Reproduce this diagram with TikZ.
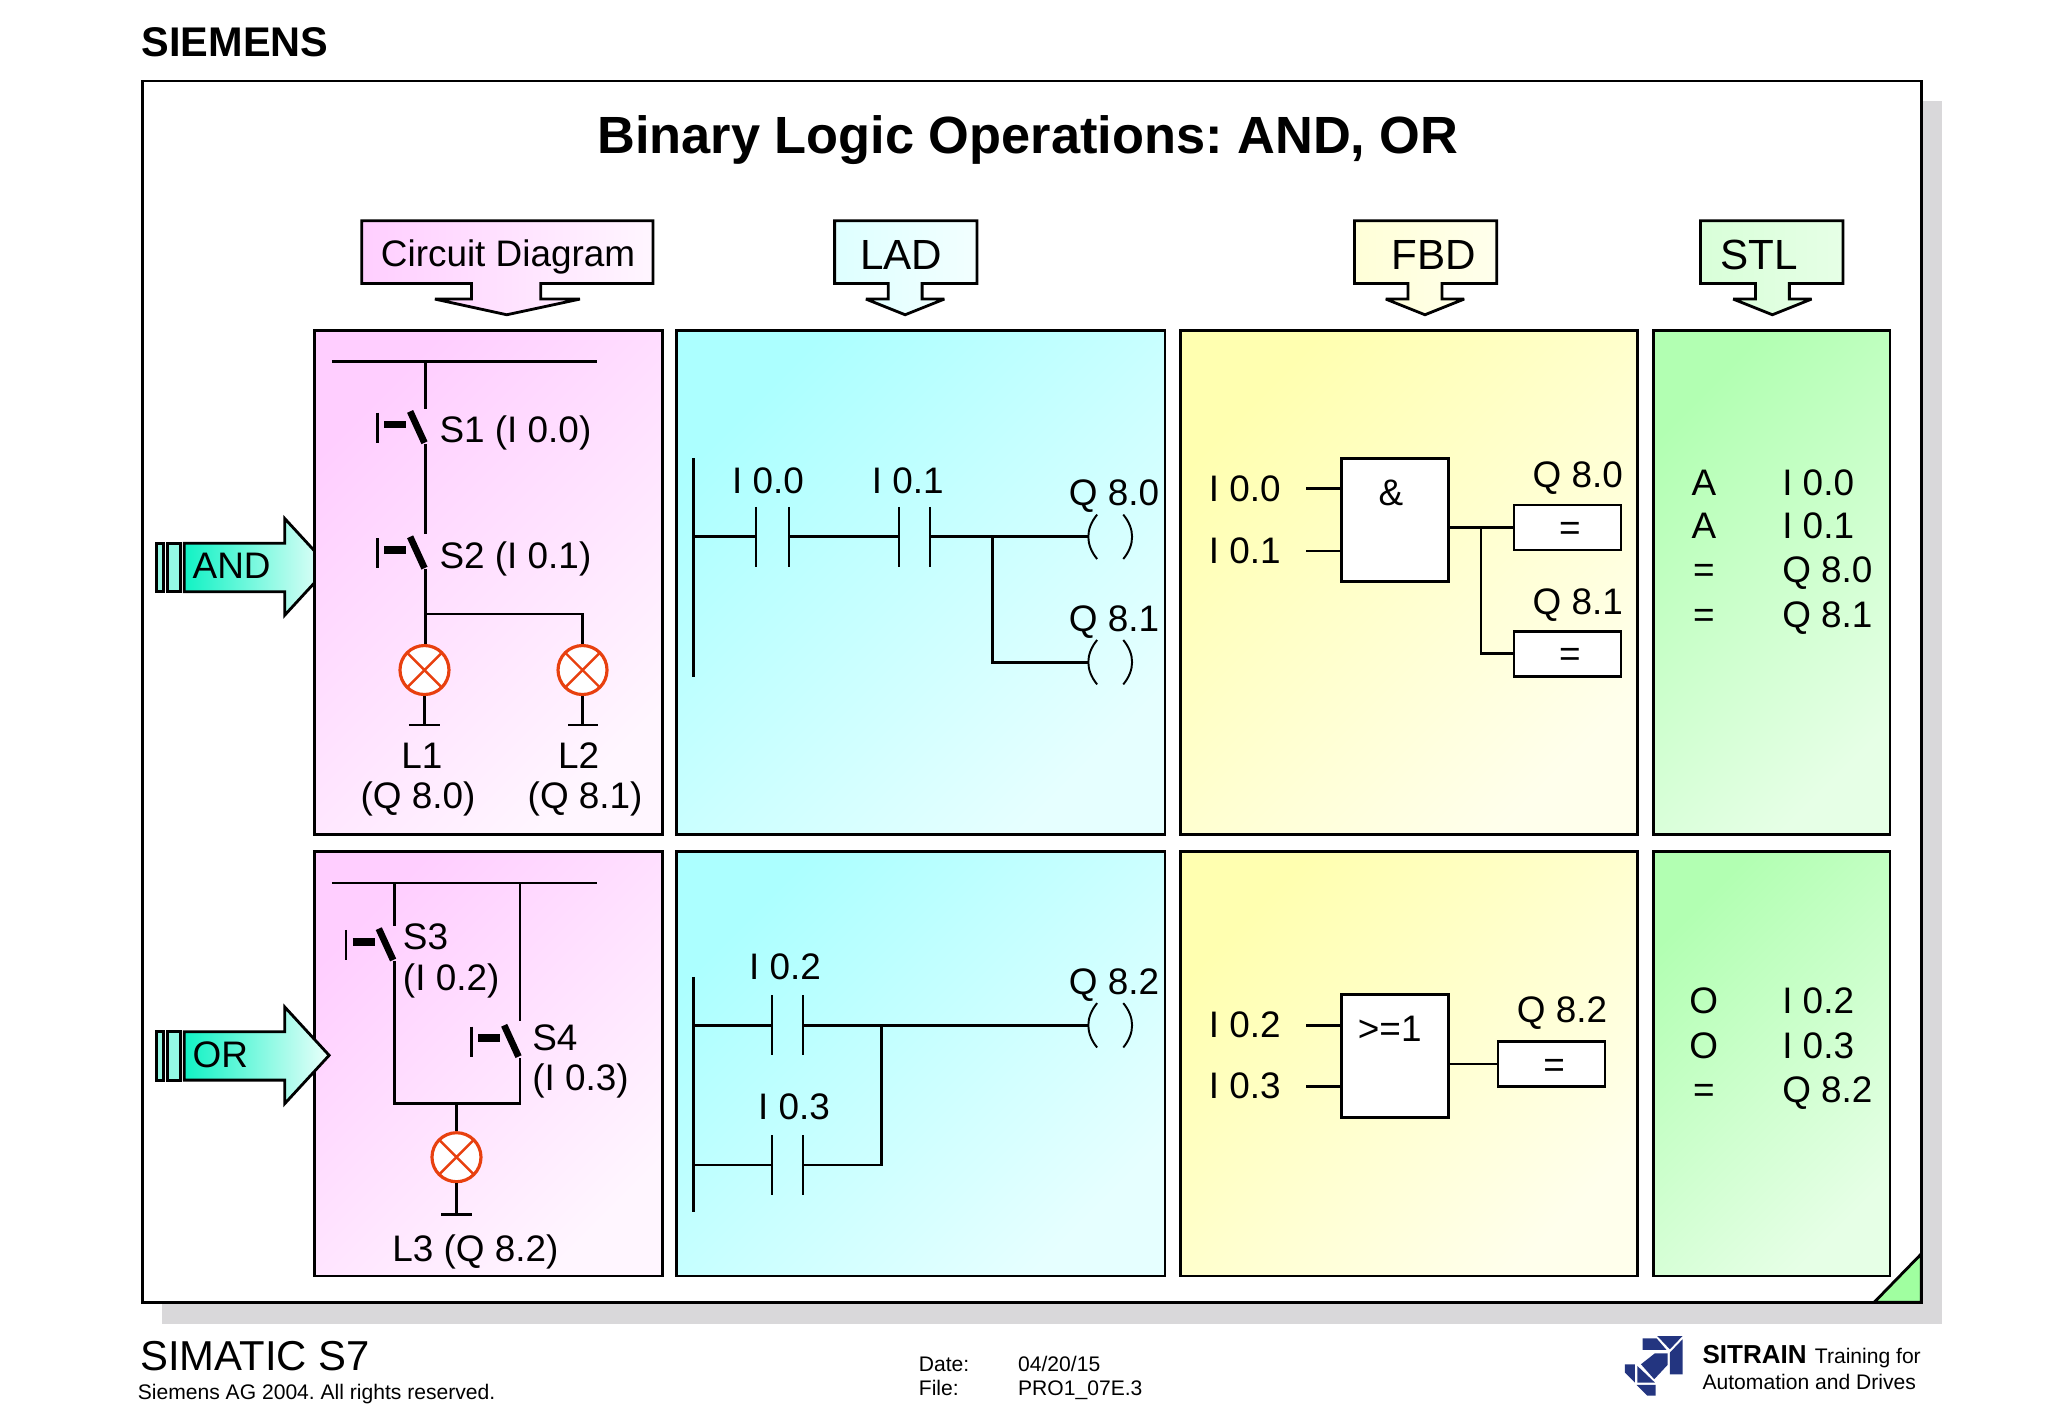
\documentclass[tikz,border=0pt]{standalone}
\usepackage{fontspec}
\setmainfont{Liberation Sans}
\definecolor{shadowgrey}{HTML}{D9D8DA}
\definecolor{lampred}{HTML}{E8400F}
\definecolor{logoblue}{HTML}{233580}
\definecolor{pinkdeep}{HTML}{FFCEFF}
\definecolor{pinkpale}{HTML}{FFF6FF}
\definecolor{cyandeep}{HTML}{ACFFFF}
\definecolor{cyanpale}{HTML}{E6FFFF}
\definecolor{yellowdeep}{HTML}{FFFFB0}
\definecolor{yellowpale}{HTML}{FFFFEC}
\definecolor{greendeep}{HTML}{B2FFB2}
\definecolor{greenpale}{HTML}{E6FFE6}
\definecolor{arrowdeep}{HTML}{10F2C4}
\definecolor{arrowpale}{HTML}{EAFFFB}
\begin{document}
\frenchspacing
\begin{tikzpicture}[x=0.0130612cm,y=-0.0130612cm]
  \tikzstyle{wire}=[line width=0.75pt]
  \tikzstyle{thin wire}=[line width=0.55pt]
  \tikzstyle{outline}=[draw=black, line width=0.8pt]
  \tikzstyle{callout}=[outline, miter limit=2, shading=axis]
  \tikzstyle{panel}=[outline, shading=axis, shading angle=45]
  \tikzstyle{lbl}=[inner sep=0pt, yshift=0.35pt, font=\fontsize{10.5}{12}\selectfont, text height=7.5pt, text depth=0pt]
  \tikzstyle{headlbl}=[lbl, font=\fontsize{12}{14}\selectfont, text height=8.6pt]
  \tikzstyle{small}=[inner sep=0pt, font=\fontsize{6}{7}\selectfont, anchor=west, text height=4.3pt, text depth=0pt]
  \tikzstyle{lamp}=[circle, draw=lampred, fill=white, line width=0.9pt, minimum size=0.49cm, inner sep=0pt,
    path picture={\draw[lampred, line width=0.7pt]
      (path picture bounding box.north west) -- (path picture bounding box.south east)
      (path picture bounding box.north east) -- (path picture bounding box.south west);}]
  \tikzstyle{fbdbox}=[draw=black, fill=white, line width=0.75pt, inner sep=0pt, minimum width=1.07cm, minimum height=1.23cm]
  \tikzstyle{assign}=[lbl, yshift=-0.35pt, draw=black, fill=white, line width=0.75pt, minimum width=1.07cm, minimum height=0.45cm]
  \useasboundingbox (0,0) rectangle (1568,1085.66);

  % Sheet
  \node[inner sep=0pt, anchor=west, font=\fontsize{11.8}{14}\selectfont\bfseries] (brand) at (108,32) {SIEMENS};
  \fill[shadowgrey] (124,77) rectangle (1487,1014);
  \draw[outline, fill=white] (109,62) rectangle (1471,997);
  \draw[outline, top color=greendeep!90!green, bottom color=greendeep!90!green] (1471,960) -- (1471,997) -- (1435,997) -- cycle;
  \node[inner sep=0pt, font=\fontsize{14.9}{18}\selectfont\bfseries] (title) at (787,107) {Binary Logic Operations: AND, OR};

  % Header arrows
  \draw[callout, left color=pinkdeep, right color=pinkpale]
    (277,169) -- (500,169) -- (500,217) -- (414,217) -- (414,229) -- (444,229) -- (388,241)
    -- (333,229) -- (361,229) -- (361,217) -- (277,217) -- cycle;
  \draw[callout, left color=cyandeep!40, right color=cyanpale!50]
    (639,169) -- (748,169) -- (748,217) -- (706,217) -- (706,229) -- (723,229) -- (693,241)
    -- (663,229) -- (680,229) -- (680,217) -- (639,217) -- cycle;
  \draw[callout, left color=yellowdeep!50, right color=yellowpale]
    (1037,169) -- (1146,169) -- (1146,217) -- (1104,217) -- (1104,229) -- (1121,229) -- (1091,241)
    -- (1061,229) -- (1078,229) -- (1078,217) -- (1037,217) -- cycle;
  \draw[callout, left color=greendeep!50, right color=greenpale]
    (1302,169) -- (1411,169) -- (1411,217) -- (1370,217) -- (1370,229) -- (1387,229) -- (1357,241)
    -- (1327,229) -- (1344,229) -- (1344,217) -- (1302,217) -- cycle;
  \node[lbl] (h1) at (389,195) {Circuit Diagram};
  \node[headlbl] (h2) at (690,196) {LAD};
  \node[headlbl] (h3) at (1098,196) {FBD};
  \node[headlbl] (h4) at (1347,196) {STL};

  % AND arrow goes behind the panel
  \draw[outline, fill=arrowdeep!45] (120,416) rectangle (125,453);
  \draw[outline, fill=arrowdeep!45] (128,416) rectangle (138,453);
  \draw[outline, left color=arrowdeep, right color=arrowpale]
    (141,416) -- (218,416) -- (218,397) -- (252,434) -- (218,471) -- (218,453) -- (141,453) -- cycle;

  % Panels
  \path[panel, top color=pinkdeep, bottom color=pinkpale, shading angle=45] (241,253) rectangle (507,639);
  \path[panel, top color=cyandeep, bottom color=cyanpale, shading angle=45] (518,253) rectangle (892,639);
  \path[panel, top color=yellowdeep, bottom color=yellowpale, shading angle=45] (904,253) rectangle (1254,639);
  \path[panel, top color=greendeep, bottom color=greenpale, shading angle=45] (1266,253) rectangle (1447,639);
  \path[panel, top color=pinkdeep, bottom color=pinkpale, shading angle=45] (241,652) rectangle (507,977);
  \path[panel, top color=cyandeep, bottom color=cyanpale, shading angle=45] (518,652) rectangle (892,977);
  \path[panel, top color=yellowdeep, bottom color=yellowpale, shading angle=45] (904,652) rectangle (1254,977);
  \path[panel, top color=greendeep, bottom color=greenpale, shading angle=45] (1266,652) rectangle (1447,977);

  % OR arrow lies over the panel
  \draw[outline, fill=arrowdeep!45] (120,790) rectangle (125,827);
  \draw[outline, fill=arrowdeep!45] (128,790) rectangle (138,827);
  \draw[outline, left color=arrowdeep, right color=arrowpale]
    (141,790) -- (218,790) -- (218,771) -- (252,808) -- (218,845) -- (218,827) -- (141,827) -- cycle;
  \node[lbl, anchor=west] (andlbl) at (147,434) {AND};
  \node[lbl, anchor=west] (orlbl) at (147,808) {OR};

  % Circuit AND
  \coordinate (ra1) at (254,277);
  \coordinate (ra2) at (457,277);
  \coordinate (ra3) at (326,277);
  \coordinate (s1t) at (326,313);
  \coordinate (s1b) at (326,340);
  \coordinate (s2t) at (326,409);
  \coordinate (s2b) at (326,436);
  \coordinate (ja) at (326,470);
  \coordinate (jb) at (446,470);
  \node[lamp] (l1) at (325,513) {};
  \node[lamp] (l2) at (446,513) {};
  \coordinate (g1) at (325,555);
  \coordinate (g2) at (446,555);
  \draw[wire] (ra1) -- (ra2);
  \draw[wire] (ra3) -- (s1t);
  \draw[wire] (s1b) -- (s2t);
  \draw[wire] (s2b) -- (l1.north -| s2b);
  \draw[wire] (ja) -- (jb) -- (l2.north);
  \draw[wire] (l1) -- (g1);
  \draw[wire] (l2) -- (g2);
  \draw[wire] (313,555) -- (337,555);
  \draw[wire] (435,555) -- (458,555);
  \node[lbl, anchor=west] (s1) at (336,330) {S1 (I 0.0)};
  \node[lbl, anchor=west] (s2) at (336,426) {S2 (I 0.1)};
  \node[lbl] (l1a) at (323,579) {L1};
  \node[lbl] (l1b) at (320,610) {(Q 8.0)};
  \node[lbl] (l2a) at (443,579) {L2};
  \node[lbl] (l2b) at (448,610) {(Q 8.1)};

  % Circuit OR
  \coordinate (rb1) at (254,676);
  \coordinate (rb2) at (457,676);
  \coordinate (rb3) at (302,676);
  \coordinate (rb4) at (398,676);
  \coordinate (s3t) at (302,709);
  \coordinate (s3b) at (302,736);
  \coordinate (s4t) at (398,782);
  \coordinate (s4b) at (398,810);
  \coordinate (jc) at (302,845);
  \coordinate (jd) at (398,845);
  \coordinate (je) at (349.5,845);
  \node[lamp] (l3) at (349.5,886) {};
  \coordinate (g3) at (349.5,930);
  \draw[wire] (rb1) -- (rb2);
  \draw[wire] (rb3) -- (s3t);
  \draw[wire] (rb4) -- (s4t);
  \draw[wire] (s3b) -- (jc) -- (jd) -- (s4b);
  \draw[wire] (je) -- (l3);
  \draw[wire] (l3) -- (g3);
  \draw[wire] (338,930) -- (361,930);
  \node[lbl, anchor=west] (s3) at (308,718) {S3};
  \node[lbl, anchor=west] (s3a) at (308,749) {(I 0.2)};
  \node[lbl, anchor=west] (s4) at (407,795) {S4};
  \node[lbl, anchor=west] (s4a) at (407,826) {(I 0.3)};
  \node[lbl] (l3a) at (364,957) {L3 (Q 8.2)};

  % Push buttons
  \foreach \bx/\by in {326/315, 326/411, 302/711, 398/785} {
    \draw[line width=1.9pt] (\bx-12,\by) -- (\bx-1,\by+24);
    \draw[line width=2.2pt] (\bx-32,\by+10) -- (\bx-15,\by+10);
    \draw[line width=0.6pt] (\bx-37,\by+1) -- (\bx-37,\by+24);
  }

  % LAD AND
  \coordinate (pa1) at (531,351);
  \coordinate (pa2) at (531,518);
  \coordinate (pa3) at (531,411);
  \coordinate (ca1) at (579,411);
  \coordinate (ca2) at (604,411);
  \coordinate (ca3) at (688,411);
  \coordinate (ca4) at (712,411);
  \coordinate (co1) at (833,411);
  \coordinate (jf) at (760,411);
  \coordinate (jg) at (760,507);
  \coordinate (co2) at (833,507);
  \draw[wire] (pa1) -- (pa2);
  \draw[wire] (pa3) -- (ca1);
  \draw[wire] (ca2) -- (ca3);
  \draw[wire] (ca4) -- (co1);
  \draw[wire] (jf) -- (jg) -- (co2);
  \node[lbl] (la1) at (588,369) {I 0.0};
  \node[lbl] (la2) at (695,369) {I 0.1};
  \node[lbl] (la3) at (853,378) {Q 8.0};
  \node[lbl] (la4) at (853,474) {Q 8.1};

  % LAD OR
  \coordinate (pb1) at (531,748);
  \coordinate (pb2) at (531,928);
  \coordinate (pb3) at (531,785);
  \coordinate (pb4) at (531,892);
  \coordinate (cb1) at (591,785);
  \coordinate (cb2) at (615,785);
  \coordinate (cb3) at (591,892);
  \coordinate (cb4) at (615,892);
  \coordinate (jh) at (675,892);
  \coordinate (ji) at (675,785);
  \coordinate (co3) at (833,785);
  \draw[wire] (pb1) -- (pb2);
  \draw[wire] (pb3) -- (cb1);
  \draw[wire] (cb2) -- (co3);
  \draw[wire] (pb4) -- (cb3);
  \draw[wire] (cb4) -- (jh) -- (ji);
  \node[lbl] (lb1) at (601,741) {I 0.2};
  \node[lbl] (lb2) at (608,848) {I 0.3};
  \node[lbl] (lb3) at (853,752) {Q 8.2};

  % Contacts and coils
  \foreach \cx/\cy in {579/411, 604/411, 688/411, 712/411, 591/785, 615/785, 591/892, 615/892}
    \draw[thin wire] (\cx,\cy-23) -- (\cx,\cy+23);
  \foreach \cy in {411, 507, 785} {
    \draw[thin wire] (840,\cy-17) .. controls (831,\cy-6) and (831,\cy+6) .. (840,\cy+17);
    \draw[thin wire] (860,\cy-17) .. controls (869,\cy-6) and (869,\cy+6) .. (860,\cy+17);
  }

  % FBD AND
  \node[fbdbox] (and) at (1068,398) {};
  \node[lbl] (andsym) at (1065,378) {\&};
  \node[assign] (q80) at (1200,404) {\hspace*{1.4pt}=};
  \node[assign] (q81) at (1200,500.5) {\hspace*{1.4pt}=};
  \coordinate (ia1) at (1000,374);
  \coordinate (ia2) at (1000,422);
  \coordinate (jj) at (1134,404);
  \coordinate (jk) at (1134,500.5);
  \draw[wire] (ia1) -- (ia1 -| and.west);
  \draw[wire] (ia2) -- (ia2 -| and.west);
  \draw[wire] (and.east |- q80) -- (q80);
  \draw[wire] (jj) -- (jk) -- (q81);
  \node[lbl] (fa1) at (953,375) {I 0.0};
  \node[lbl] (fa2) at (953,422) {I 0.1};
  \node[lbl] (fa3) at (1208,364) {Q 8.0};
  \node[lbl] (fa4) at (1208,461) {Q 8.1};

  % FBD OR
  \node[fbdbox] (or) at (1068,808.5) {};
  \node[lbl] (orsym) at (1064,788) {>=1};
  \node[assign] (q82) at (1188,814.5) {\hspace*{1.4pt}=};
  \coordinate (ib1) at (1000,785);
  \coordinate (ib2) at (1000,832);
  \draw[wire] (ib1) -- (ib1 -| or.west);
  \draw[wire] (ib2) -- (ib2 -| or.west);
  \draw[wire] (or.east |- q82) -- (q82);
  \node[lbl] (fb1) at (953,785) {I 0.2};
  \node[lbl] (fb2) at (953,832) {I 0.3};
  \node[lbl] (fb3) at (1196,774) {Q 8.2};

  % STL
  \foreach \op/\arg/\ly [count=\i] in {A/I 0.0/370, A/I 0.1/403.5, =/Q 8.0/437, =/Q 8.1/471, O/I 0.2/767, O/I 0.3/801, =/Q 8.2/835} {
    \node[lbl] (op\i) at (1304.5,\ly) {\op};
    \node[lbl, anchor=west] (arg\i) at (1364,\ly) {\arg};
  }

  % Footer
  \node[inner sep=0pt, anchor=west, font=\fontsize{11.9}{14}\selectfont] (simatic) at (107,1038) {SIMATIC S7};
  \node[small] (copy) at (105,1066) {Siemens AG 2004. All rights reserved.};
  \node[small] (d1) at (703,1044.5) {Date:};
  \node[small] (d2) at (779,1044.5) {04/20/15};
  \node[small] (f1) at (703,1062.5) {File:};
  \node[small] (f2) at (779,1062.5) {PRO1\_07E.3};
  \node[small, font=\fontsize{7.4}{9}\selectfont\bfseries, text height=5.3pt] (sit) at (1303,1037) {SITRAIN};
  \node[small] (sit2) at (1389,1038) {Training for};
  \node[small] (sit3) at (1303,1058) {Automation and Drives};

  % Logo
  \begin{scope}[shift={(1240.3,1018.3)}, x=0.003333cm, y=-0.003333cm]
    \fill[logoblue] (68,25) -- (110,25) -- (140,60) -- (68,60) -- cycle;
    \fill[logoblue] (112,18) -- (188,18) -- (150,58) -- cycle;
    \fill[logoblue] (188,28) -- (188,133) -- (150,133) -- (150,68) -- cycle;
    \fill[logoblue] (105,70) -- (143,70) -- (143,105) -- (103,148) -- (63,103) -- cycle;
    \fill[logoblue] (15,103) -- (45,103) -- (45,158) -- (15,128) -- cycle;
    \fill[logoblue] (52,108) -- (105,158) -- (52,158) -- cycle;
    \fill[logoblue] (50,165) -- (107,165) -- (107,197) -- (82,197) -- cycle;
  \end{scope}
\end{tikzpicture}
\end{document}
